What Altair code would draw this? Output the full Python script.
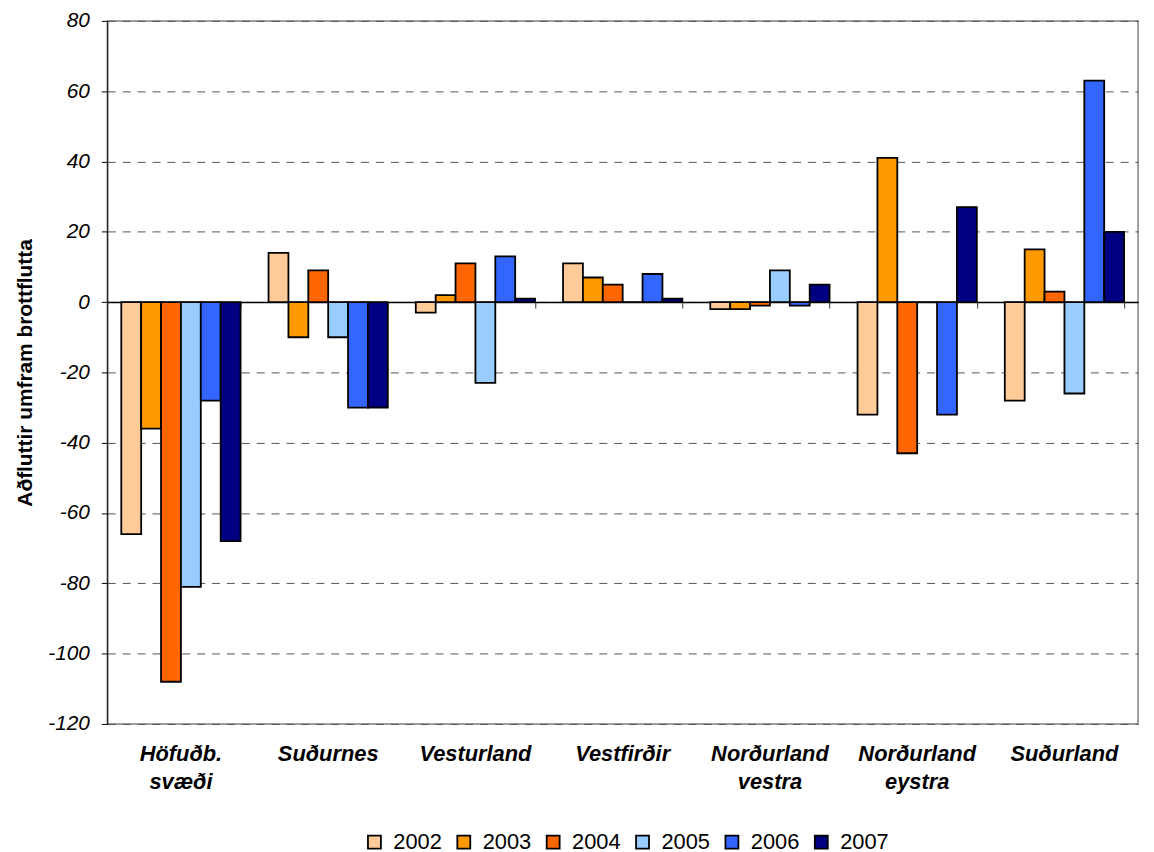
import altair as alt
import pandas as pd

regions = ["Höfuðb. svæði", "Suðurnes", "Vesturland", "Vestfirðir",
           "Norðurland vestra", "Norðurland eystra", "Suðurland"]
years = ["2002", "2003", "2004", "2005", "2006", "2007"]
v2002 = [-66, 14, -3, 11, -2, -32, -28]
v2003 = [-36, -10, 2, 7, -2, 41, 15]
v2004 = [-108, 9, 11, 5, -1, -43, 3]
v2005 = [-81, -10, -23, 0, 9, 0, -26]
v2006 = [-28, -30, 13, 8, -1, -32, 63]
v2007 = [-68, -30, 1, 1, 5, 27, 20]
colors = ["#FFCC99", "#FF9900", "#FF6600", "#99CCFF", "#3366FF", "#000080"]
y_ticks = [-120, -100, -80, -60, -40, -20, 0, 20, 40, 60, 80]

series = [v2002, v2003, v2004, v2005, v2006, v2007]
rows = []
for yr, vals in zip(years, series):
    for reg, v in zip(regions, vals):
        rows.append({"region": reg, "year": yr, "value": v})
df = pd.DataFrame(rows)

FONT = "Liberation Sans"
x_scale = alt.Scale(domain=regions, paddingInner=0.19, paddingOuter=0.095)
y_scale = alt.Scale(domain=[-120, 80], nice=False, zero=False)
y_axis = alt.Axis(values=y_ticks, title="Aðfluttir umfram brottflutta",
                  labelExpr="toString(datum.value)",
                  titleFont=FONT, titleFontSize=21, titleFontWeight="bold",
                  titleColor="black", titlePadding=12,
                  labelFont=FONT, labelFontSize=21, labelFontStyle="italic",
                  labelColor="black", labelPadding=12,
                  tickSize=6, tickColor="black", domainColor="black",
                  domainWidth=1, grid=True, gridColor="#555555",
                  gridDash=[8, 7], gridWidth=1)

bars = alt.Chart(df).mark_bar(stroke="black", strokeWidth=1.8).encode(
    x=alt.X("region:N", sort=regions, scale=x_scale,
            axis=alt.Axis(title=None, orient="bottom", labelAngle=0,
                          labelExpr="split(datum.label, ' ')",
                          labelFont=FONT, labelFontSize=22,
                          labelFontStyle="italic", labelFontWeight="bold",
                          labelColor="black", labelPadding=20,
                          labelLineHeight=28, labelBaseline="top",
                          labelLimit=0, domain=False, ticks=False, grid=False)),
    xOffset=alt.XOffset("year:N", sort=years,
                        scale=alt.Scale(paddingInner=0, paddingOuter=0)),
    y=alt.Y("value:Q", scale=y_scale, axis=y_axis),
    color=alt.Color("year:N", scale=alt.Scale(domain=years, range=colors),
                    legend=alt.Legend(title=None, orient="none", direction="horizontal",
                                      legendX=258, legendY=816, padding=0,
                                      symbolType="square", symbolSize=170,
                                      symbolStrokeColor="black", symbolStrokeWidth=1.8,
                                      labelFont=FONT, labelFontSize=22,
                                      labelColor="black", labelOffset=8,
                                      columnPadding=11)),
)

zero_axis = alt.Chart(df).mark_bar(opacity=0).encode(
    x=alt.X("region:N", sort=regions, scale=x_scale,
            axis=alt.Axis(title=None, orient="bottom", labels=False,
                          domain=True, domainColor="black", domainWidth=1.5,
                          ticks=True, tickBand="extent", tickSize=6,
                          tickColor="#333333", offset=-424.8, grid=False)),
    y=alt.Y("value:Q", scale=y_scale, axis=y_axis),
)

chart = alt.layer(bars, zero_axis).resolve_axis(x="independent").properties(
    width=1038, height=708,
    autosize=alt.AutoSizeParams(type="none"),
    padding={"left": 100, "top": 10, "right": 8, "bottom": 128},
    background="white",
).configure_view(stroke="#808080", strokeWidth=1.5)

chart.save("out.html", embed_options={"renderer": "svg", "actions": False})
